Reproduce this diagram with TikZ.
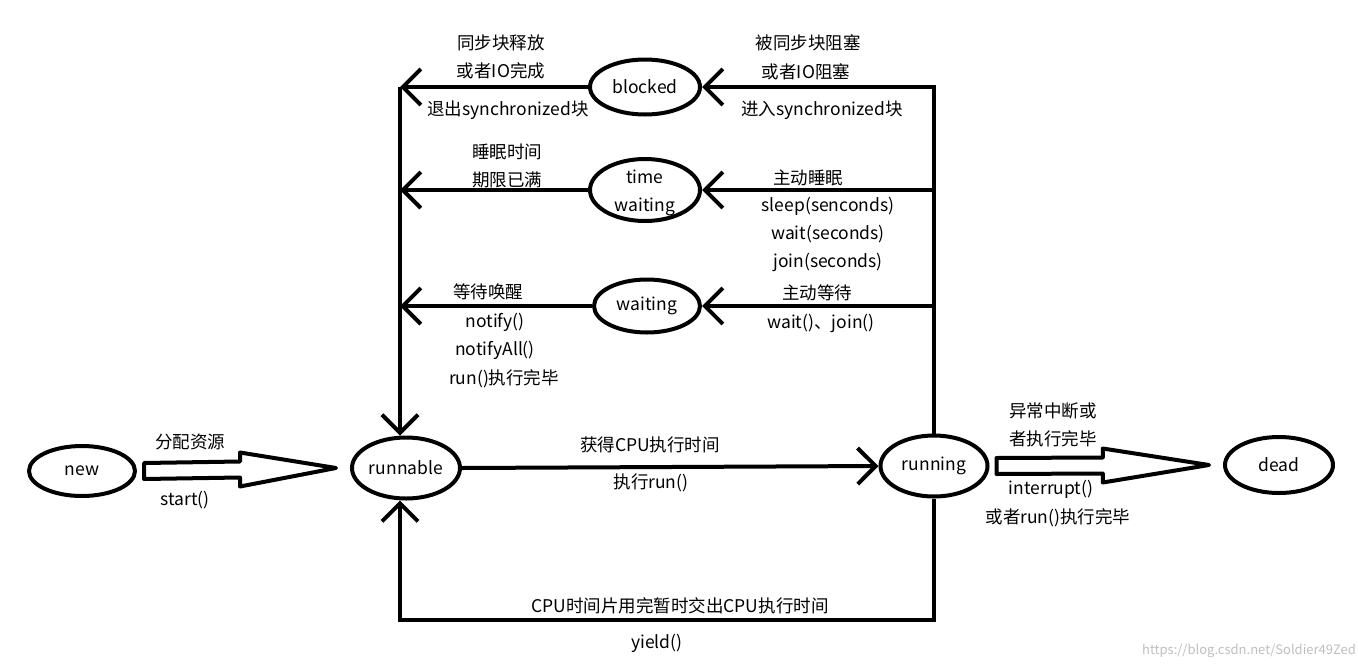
\documentclass[tikz,border=0pt]{standalone}
\usepackage{fontspec}
\setmainfont{Noto Sans CJK SC}
\usetikzlibrary{positioning,arrows.meta,calc,shapes.geometric}

\tikzset{
  state/.style={ellipse, draw, line width=4pt, minimum width=108pt, minimum height=56pt, inner sep=0pt, align=center},
  flow/.style={line width=4pt, -{Straight Barb[length=18pt,width=36pt]}},
  hollow/.style={line width=4pt, line join=round},
  lbl/.style={inner sep=0pt, align=center},
}

% hollow block arrow between two states
\newcommand{\hollowarrow}[2]{%
  \coordinate (ha s) at ($(#1.east)+(7,0)$);
  \coordinate (ha t) at ($(#2.west)+(-14,0)$);
  \coordinate (ha m) at ($(ha s)!.5!(ha t)$);
  \draw[hollow] ($(ha s)+(0,-8)$) -- ($(ha m)+(0,-8)$) -- ($(ha m)+(0,-17)$) -- (ha t)
    -- ($(ha m)+(0,17)$) -- ($(ha m)+(0,8)$) -- ($(ha s)+(0,8)$) -- cycle;
}

\begin{document}
\begin{tikzpicture}[x=1pt, y=-1pt, font=\fontsize{17.5}{28}\selectfont]
  \fill[white] (0,0) rectangle (1358,670);
  \useasboundingbox (0,0) rectangle (1358,670);

  % states
  \node[state, minimum width=106pt, minimum height=50pt] (new) at (82,471) {new};
  \node[state, minimum height=61pt] (runnable) at (406,468) {runnable};
  \node[state, minimum width=107pt, minimum height=61pt] (running) at (934,466) {running};
  \node[state] (dead) at (1279,465) {dead};
  \node[state, minimum width=110pt, minimum height=55pt] (blocked) at (645,87) {blocked};
  \node[state, minimum width=110pt, minimum height=62pt, inner ysep=-8pt] (timewait) at (645,190) {\strut time\\waiting};
  \node[state, minimum width=106pt, minimum height=53pt] (waiting) at (647,306) {waiting};

  \coordinate (leftbus) at ($(runnable.north)+(-6,0)$);
  \coordinate (loop) at (0,620);

  % connectors
  \hollowarrow{new}{runnable}
  \hollowarrow{running}{dead}
  \draw[flow] (runnable.east) -- (running.west);
  \draw[flow] (running.north) |- (blocked.east);
  \draw[flow] (running.north |- timewait.east) -- (timewait.east);
  \draw[flow] (running.north |- waiting.east) -- (waiting.east);
  \draw[flow] (blocked.west) -- (blocked.west -| leftbus);
  \draw[flow] (blocked.west -| leftbus) -- (leftbus |- runnable.north);
  \draw[flow] (timewait.west) -- (timewait.west -| leftbus);
  \draw[flow] (waiting.west) -- (waiting.west -| leftbus);
  \draw[flow] (running.south) -- (running.south |- loop) -- (leftbus |- loop) -- (leftbus |- runnable.south);

  % labels
  \node[lbl] (l new a) at (190,442) {分配资源};
  \node[lbl] (l new b) at (185,500) {start()};
  \node[lbl] (l run a) at (650,445) {获得CPU执行时间};
  \node[lbl] (l run b) at (651,483) {执行run()};
  \node[lbl] (l dead a) at (1053,425) {异常中断或\\者执行完毕};
  \node[lbl] (l dead b) at (1051,489) {interrupt()};
  \node[lbl] (l dead c) at (1058,518) {或者run()执行完毕};
  \node[lbl] (l blk out a) at (501,57) {同步块释放\\或者IO完成};
  \node[lbl] (l blk out b) at (508,110) {退出synchronized块};
  \node[lbl] (l blk in a) at (808,43) {被同步块阻塞};
  \node[lbl] (l blk in b) at (806,72) {或者IO阻塞};
  \node[lbl] (l blk in c) at (822,110) {进入synchronized块};
  \node[lbl] (l tw out) at (507,166) {睡眠时间\\期限已满};
  \node[lbl] (l tw in a) at (808,178) {主动睡眠};
  \node[lbl] (l tw in b) at (828,234) {sleep(senconds)\\wait(seconds)\\join(seconds)};
  \node[lbl] (l wt out a) at (488,292) {等待唤醒};
  \node[lbl] (l wt out b) at (495,336) {notify()\\notifyAll()};
  \node[lbl] (l wt out c) at (504,379) {run()执行完毕};
  \node[lbl] (l wt in a) at (817,293) {主动等待};
  \node[lbl] (l wt in b) at (821,323) {wait()、join()};
  \node[lbl] (l yield a) at (680,606) {CPU时间片用完暂时交出CPU执行时间};
  \node[lbl] (l yield b) at (657,643) {yield()};
  \node[lbl, text=black!25, font=\fontsize{13}{15}\selectfont] (mark) at (1249,651) {https://blog.csdn.net/Soldier49Zed};
\end{tikzpicture}
\end{document}
